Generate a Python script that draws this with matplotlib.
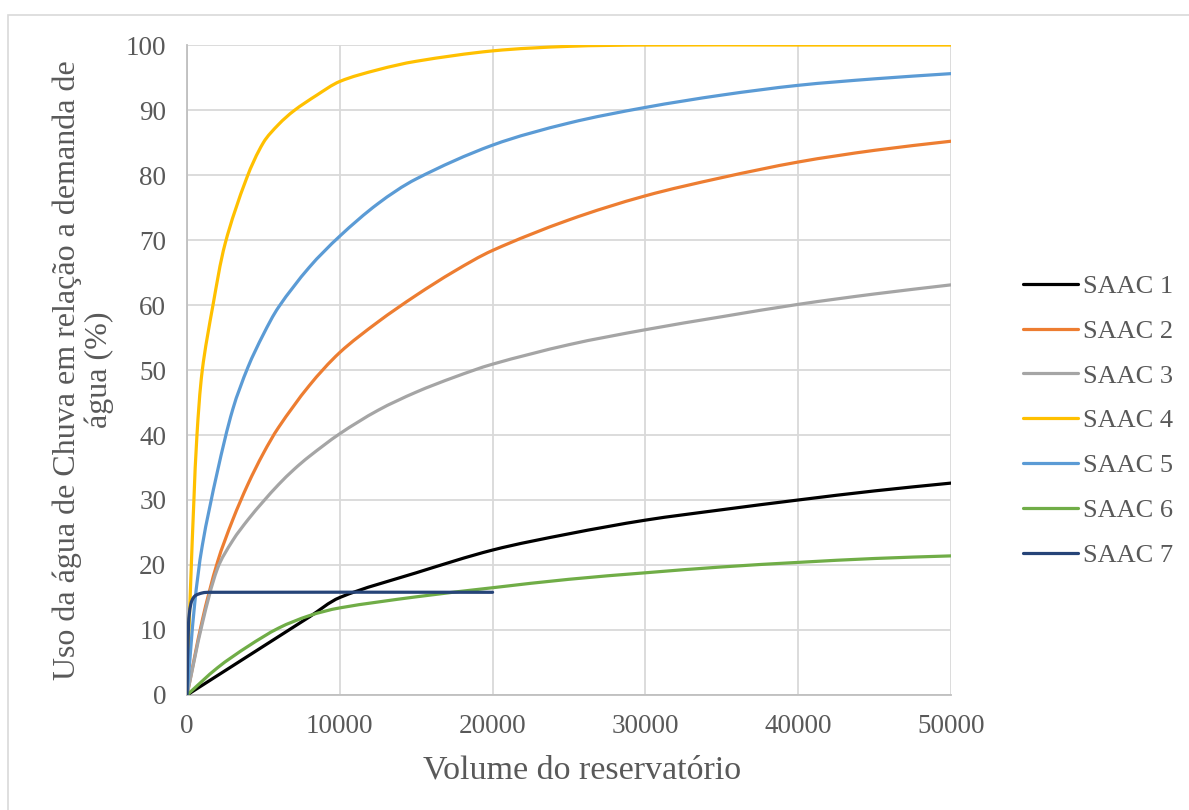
import numpy as np
import matplotlib.pyplot as plt
from matplotlib.patches import Rectangle, PathPatch
from matplotlib.path import Path
from matplotlib.lines import Line2D

# volumes (L) and rainwater use (%) for each system
x_saac1 = [0, 2000, 4000, 6000, 8000, 10000, 15000, 20000, 25000, 30000, 35000, 40000, 45000, 50000]
y_saac1 = [0, 3.0, 6.0, 9.0, 12.0, 15.0, 18.8, 22.3, 24.8, 26.9, 28.5, 30.0, 31.4, 32.6]

x_saac2 = [0, 1000, 2000, 3000, 4000, 5000, 6000, 8000, 10000, 12500, 15000, 17500, 20000,
           25000, 30000, 35000, 40000, 45000, 50000]
y_saac2 = [0, 11.5, 20.5, 27.0, 32.5, 37.2, 41.2, 47.6, 52.7, 57.4, 61.5, 65.2, 68.4,
           73.1, 76.8, 79.6, 82.0, 83.8, 85.2]

x_saac3 = [0, 1000, 2000, 3000, 4000, 5000, 6000, 7000, 8000, 10000, 12500, 15000, 17500, 20000,
           25000, 30000, 35000, 40000, 45000, 50000]
y_saac3 = [0, 11.0, 19.5, 23.8, 27.0, 29.8, 32.4, 34.7, 36.7, 40.2, 43.8, 46.6, 48.9, 50.9,
           53.9, 56.2, 58.2, 60.1, 61.7, 63.1]

x_saac4 = [0, 100, 250, 450, 650, 1000, 1700, 2500, 3900, 5000, 6000, 7000, 8500, 10000,
           12500, 15000, 20000, 25000, 30000, 40000, 50000]
y_saac4 = [0, 8.0, 18.0, 30.0, 40.0, 50.0, 60.0, 69.5, 79.5, 85.0, 87.8, 89.9, 92.3, 94.4,
           96.2, 97.5, 99.1, 99.8, 100, 100, 100]

x_saac5 = [0, 500, 1000, 2000, 3000, 4000, 5000, 6000, 8000, 10000, 12500, 15000, 20000,
           25000, 30000, 35000, 40000, 45000, 50000]
y_saac5 = [0, 14.0, 23.0, 34.5, 44.0, 50.5, 55.5, 59.7, 65.8, 70.6, 75.6, 79.4, 84.6,
           88.0, 90.4, 92.3, 93.8, 94.8, 95.6]

x_saac6 = [0, 2000, 4000, 6000, 8000, 10000, 15000, 20000, 25000, 30000, 35000, 40000, 45000, 50000]
y_saac6 = [0, 4.2, 7.5, 10.3, 12.2, 13.4, 15.1, 16.5, 17.8, 18.8, 19.7, 20.4, 21.0, 21.4]

x_saac7 = [0, 100, 250, 500, 1000, 1500, 20000]
y_saac7 = [0, 11.0, 14.0, 15.2, 15.7, 15.8, 15.8]

labels = ['SAAC 1', 'SAAC 2', 'SAAC 3', 'SAAC 4', 'SAAC 5', 'SAAC 6', 'SAAC 7']
cores = ['#000000', '#ED7D31', '#A5A5A5', '#FFC000', '#5B9BD5', '#70AD47', '#264478']
series = [(x_saac1, y_saac1), (x_saac2, y_saac2), (x_saac3, y_saac3), (x_saac4, y_saac4),
          (x_saac5, y_saac5), (x_saac6, y_saac6), (x_saac7, y_saac7)]

XMAX, YMAX = 50000, 100


def curva_suave(xs, ys, sx, sy):
    """Path bezier passando pelos pontos (linha suavizada como no Excel)."""
    p = np.column_stack([np.asarray(xs, float) * sx, np.asarray(ys, float) * sy])
    n = len(p)
    d = np.hypot(*np.diff(p, axis=0).T)
    tang = np.zeros_like(p)
    for i in range(n):
        if i == 0:
            tang[i] = (p[1] - p[0]) / d[0]
        elif i == n - 1:
            tang[i] = (p[-1] - p[-2]) / d[-1]
        else:
            tang[i] = (p[i + 1] - p[i - 1]) / (d[i - 1] + d[i])
    verts = [p[0]]
    codes = [Path.MOVETO]
    for i in range(n - 1):
        c1 = p[i] + tang[i] * d[i] / 3
        c2 = p[i + 1] - tang[i + 1] * d[i] / 3
        verts += [c1, c2, p[i + 1]]
        codes += [Path.CURVE4] * 3
    verts = np.array(verts)
    verts[:, 0] /= sx
    verts[:, 1] /= sy
    return Path(verts, codes)


plt.rcParams['font.family'] = ['Liberation Serif', 'DejaVu Serif']

fig = plt.figure(figsize=(11.89, 8.10), dpi=100)
ax = fig.add_axes([0.1573, 0.142, 0.6425, 0.8024])

# moldura externa do gráfico
fig.patches.append(Rectangle((8 / 1189, -0.1), 1.2, 1.1 - 15 / 810, transform=fig.transFigure,
                             fill=False, edgecolor='#D9D9D9', linewidth=1.2, zorder=0))

# escala aproximada em pixels para a suavização
sx, sy = 764 / XMAX, 650 / YMAX
handles = []
for (xs, ys), lab, cor in zip(series, labels, cores):
    caminho = curva_suave(xs, ys, sx, sy)
    ax.add_patch(PathPatch(caminho, facecolor='none', edgecolor=cor, linewidth=2.3,
                           capstyle='round', joinstyle='round', zorder=3))
    handles.append(Line2D([], [], color=cor, linewidth=2.3, solid_capstyle='round', label=lab))

ax.set_xlim(0, XMAX)
ax.set_ylim(0, YMAX)
ax.set_xticks(range(0, 50001, 10000))
ax.set_yticks(range(0, 101, 10))
ax.grid(True, color='#D9D9D9', linewidth=1.3)
ax.set_axisbelow(True)
for s in ['top', 'right']:
    ax.spines[s].set_visible(False)
for s in ['left', 'bottom']:
    ax.spines[s].set_color('#BFBFBF')
    ax.spines[s].set_linewidth(1.3)
ax.tick_params(length=0, labelsize=19.5, colors='#595959')
ax.tick_params(axis='y', pad=15)
ax.tick_params(axis='x', pad=14)

ax.set_xlabel('Volume do reservatório', fontsize=24.5, color='#595959')
ax.xaxis.set_label_coords(0.517, -0.092)
ax.set_ylabel('Uso da água de Chuva em relação a demanda de\nágua (%)', fontsize=23,
              color='#595959', linespacing=1.1)
ax.yaxis.label.set_va('center')
ax.yaxis.set_label_coords(-0.136, 0.5)

leg = ax.legend(handles=handles, loc='center left', bbox_to_anchor=(1.08, 0.422), frameon=False,
                fontsize=19, handlelength=2.1, handletextpad=0.2, labelspacing=0.81,
                borderaxespad=0)
for t in leg.get_texts():
    t.set_color('#595959')

fig.savefig('out.png', dpi=100)
